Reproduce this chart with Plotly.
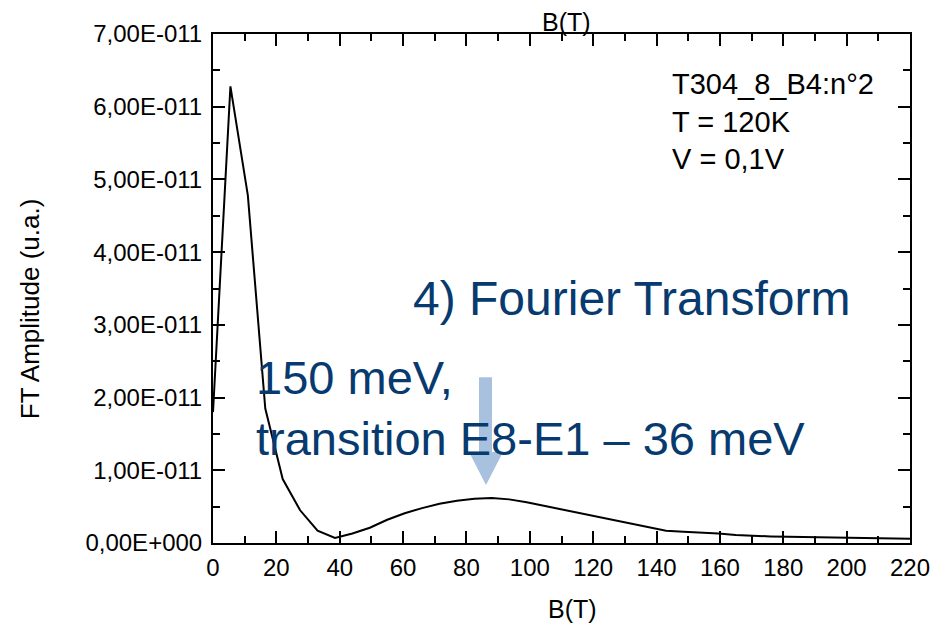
import plotly.graph_objects as go

# Data (B in T, FT amplitude in a.u.)
b_values = [0, 5.5, 11, 16.5, 22, 27.5, 33, 38.5, 44, 49.5, 55, 60.5, 66, 71.5, 77,
            82.5, 88, 93.5, 99, 104.5, 110, 115.5, 121, 126.5, 132, 137.5, 143, 148.5,
            154, 159.5, 165, 170.5, 176, 181.5, 187, 192.5, 198, 203.5, 209, 214.5, 220]
amp_e11 = [1.8, 6.28, 4.78, 1.85, 0.88, 0.45, 0.17, 0.07, 0.13, 0.21, 0.32, 0.41, 0.48,
           0.54, 0.58, 0.61, 0.62, 0.60, 0.56, 0.51, 0.46, 0.41, 0.36, 0.32, 0.27, 0.21,
           0.17, 0.155, 0.145, 0.13, 0.11, 0.095, 0.09, 0.085, 0.08, 0.075, 0.07, 0.07,
           0.065, 0.06, 0.06]
amplitude = [v * 1e-11 for v in amp_e11]

x_ticks = [0, 20, 40, 60, 80, 100, 120, 140, 160, 180, 200, 220]
x_minor = [10, 30, 50, 70, 90, 110, 130, 150, 170, 190, 210]
y_tickvals = [0, 1e-11, 2e-11, 3e-11, 4e-11, 5e-11, 6e-11, 7e-11]
y_ticktext = ["0,00E+000", "1,00E-011", "2,00E-011", "3,00E-011",
              "4,00E-011", "5,00E-011", "6,00E-011", "7,00E-011"]
y_minor = [0.5e-11, 1.5e-11, 2.5e-11, 3.5e-11, 4.5e-11, 5.5e-11, 6.5e-11]

W, H = 944, 632
L, R, T, B = 213, 34, 33.5, 89
pw, ph = W - L - R, H - T - B
XR = [0, 220]
YR = [0, 7e-11]


def px(xp):
    return (xp - L) / pw


def py(yp):
    return (H - B - yp) / ph


FONT = "Liberation Sans, Arial, sans-serif"
BLUE = "#073a6e"
LIGHT = "#a8c1df"

fig = go.Figure()
fig.add_trace(go.Scatter(x=b_values, y=amplitude, mode="lines",
                         line=dict(color="black", width=2), showlegend=False,
                         hoverinfo="skip"))

common = dict(showgrid=False, zeroline=False, showline=True, linecolor="black",
              linewidth=2, ticks="inside", tickwidth=2, tickcolor="black",
              mirror="allticks")
tf = dict(family=FONT, size=24, color="black")

fig.update_layout(
    template="none",
    width=W, height=H, margin=dict(l=L, r=R, t=T, b=B),
    paper_bgcolor="white", plot_bgcolor="white",
    font=dict(family=FONT, color="black"),
    xaxis=dict(range=XR, tickmode="array", tickvals=x_ticks, ticklen=12,
               tickfont=tf, ticklabelstandoff=2, **common),
    yaxis=dict(range=YR, tickmode="array", tickvals=y_tickvals, ticktext=y_ticktext,
               ticklen=12, tickfont=tf, ticklabelstandoff=4, **common),
    # overlay axes carrying the minor ticks
    xaxis2=dict(range=XR, overlaying="x", anchor="y", side="bottom",
                tickmode="array", tickvals=x_minor, ticklen=7,
                showticklabels=False, **common),
    yaxis2=dict(range=YR, overlaying="y", anchor="x", side="left",
                tickmode="array", tickvals=y_minor, ticklen=7,
                showticklabels=False, **common),
)
# invisible trace to activate the overlay axes
fig.add_trace(go.Scatter(x=[XR[0]], y=[YR[0]], xaxis="x2", yaxis="y2", mode="markers",
                         marker=dict(opacity=0), showlegend=False, hoverinfo="skip"))

# Arrow (decorative)
sx0, sx1 = (479 - L) / pw * 220, (492 - L) / pw * 220
hx0, hx1 = (469 - L) / pw * 220, (503 - L) / pw * 220
tx = (486 - L) / pw * 220


def yd(yp):
    return (H - B - yp) / ph * 7e-11


path = (f"M {sx0},{yd(377)} L {sx1},{yd(377)} L {sx1},{yd(452)} L {hx1},{yd(452)} "
        f"L {tx},{yd(485)} L {hx0},{yd(452)} L {sx0},{yd(452)} Z")
fig.add_shape(type="path", path=path, xref="x", yref="y", fillcolor=LIGHT,
              line=dict(width=0), layer="above")

annotations = [
    dict(text="B(T)", x=px(566), y=py(21), font=dict(size=25), xanchor="center",
         yanchor="middle"),
    dict(text="B(T)", x=px(572), y=py(609), font=dict(size=25), xanchor="center",
         yanchor="middle"),
    dict(text="FT Amplitude (u.a.)", x=px(30), y=py(309), font=dict(size=26),
         textangle=-90, xanchor="center", yanchor="middle"),
    dict(text="T304_8_B4:n°2<br>T = 120K<br>V = 0,1V", x=px(670), y=py(121),
         font=dict(size=29), xanchor="left", yanchor="middle", align="left"),
    dict(text="4) Fourier Transform", x=px(411), y=py(298),
         font=dict(size=48, color=BLUE), xanchor="left", yanchor="middle"),
    dict(text="150 meV,<br>transition E8-E1 – 36 meV", x=px(254), y=py(408),
         font=dict(size=47, color=BLUE), xanchor="left", yanchor="middle",
         align="left"),
]
for a in annotations:
    f = dict(family=FONT, color="black")
    f.update(a.pop("font"))
    fig.add_annotation(xref="paper", yref="paper", showarrow=False, font=f, **a)

fig.write_html("out.html")
